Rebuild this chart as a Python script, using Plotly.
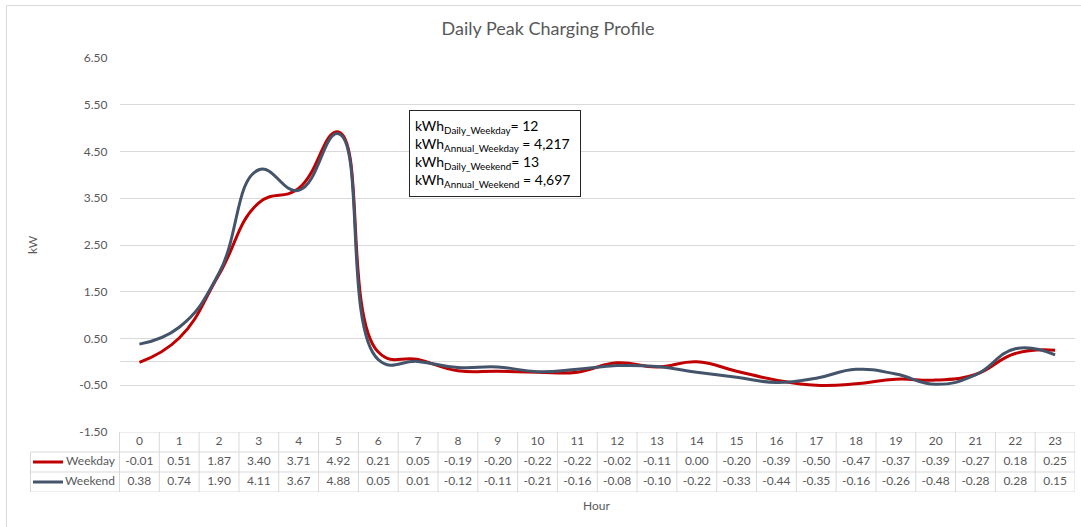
import plotly.graph_objects as go

# ---- data -------------------------------------------------------------
hours = list(range(24))
weekday = [-0.01, 0.51, 1.87, 3.40, 3.71, 4.92, 0.21, 0.05, -0.19, -0.20, -0.22, -0.22,
           -0.02, -0.11, 0.00, -0.20, -0.39, -0.50, -0.47, -0.37, -0.39, -0.27, 0.18, 0.25]
weekend = [0.38, 0.74, 1.90, 4.11, 3.67, 4.88, 0.05, 0.01, -0.12, -0.11, -0.21, -0.16,
           -0.08, -0.10, -0.22, -0.33, -0.44, -0.35, -0.16, -0.26, -0.48, -0.28, 0.28, 0.15]
series_names = ["Weekday", "Weekend"]
y_ticks = [-1.5, -0.5, 0.5, 1.5, 2.5, 3.5, 4.5, 5.5, 6.5]
kwh_daily_weekday = 12
kwh_annual_weekday = "4,217"
kwh_daily_weekend = 13
kwh_annual_weekend = "4,697"

# ---- styling ----------------------------------------------------------
FONT = "Lato"
GREY_TXT = "#595959"
GRID = "#D9D9D9"
RED = "#C00000"
SLATE = "#44546A"

W, H = 1081, 527
M_L, M_R, M_T, M_B = 29, 6, 58, 35
plot_w = W - M_L - M_R
plot_h = H - M_T - M_B
cat_left_px, cat_right_px = 119.5, 1075
axis_bottom_px = 432
table_left_px = 30.5
cat_w = (cat_right_px - cat_left_px) / 24

x_dom0 = (cat_left_px - M_L) / plot_w
y_dom0 = (H - M_B - axis_bottom_px) / plot_h
x2_lo = -0.5 - (cat_left_px - M_L) / cat_w
table_left = -0.5 - (cat_left_px - table_left_px) / cat_w


def px_to_x2(px):
    return -0.5 - (cat_left_px - px) / cat_w


def px_to_paper_x(px):
    return (px - M_L) / plot_w


def px_to_paper_y(py):
    return (H - M_B - py) / plot_h


fig = go.Figure()

# chart lines
fig.add_trace(go.Scatter(x=hours, y=weekday, mode="lines", name=series_names[0],
                         line=dict(color=RED, width=3, shape="spline", smoothing=1.3),
                         xaxis="x", yaxis="y", showlegend=False))
fig.add_trace(go.Scatter(x=hours, y=weekend, mode="lines", name=series_names[1],
                         line=dict(color=SLATE, width=3, shape="spline", smoothing=1.3),
                         xaxis="x", yaxis="y", showlegend=False))

# data table below the chart
fig.add_trace(go.Scatter(x=hours, y=[2.5] * 24, mode="text", text=[str(h) for h in hours],
                         textfont=dict(family=FONT, size=12, color=GREY_TXT),
                         xaxis="x2", yaxis="y2", showlegend=False, cliponaxis=False))
for row_y, vals in ((1.5, weekday), (0.5, weekend)):
    fig.add_trace(go.Scatter(x=hours, y=[row_y] * 24, mode="text",
                             text=[f"{v:.2f}" for v in vals],
                             textfont=dict(family=FONT, size=12, color=GREY_TXT),
                             xaxis="x2", yaxis="y2", showlegend=False, cliponaxis=False))

label_x = px_to_x2(115)
fig.add_trace(go.Scatter(x=[label_x, label_x], y=[1.5, 0.5], mode="text",
                         text=series_names, textposition="middle left",
                         textfont=dict(family=FONT, size=12, color=GREY_TXT),
                         xaxis="x2", yaxis="y2", showlegend=False, cliponaxis=False))
key_x = [px_to_x2(33), px_to_x2(63)]
fig.add_trace(go.Scatter(x=key_x, y=[1.5, 1.5], mode="lines", line=dict(color=RED, width=3),
                         xaxis="x2", yaxis="y2", showlegend=False))
fig.add_trace(go.Scatter(x=key_x, y=[0.5, 0.5], mode="lines", line=dict(color=SLATE, width=3),
                         xaxis="x2", yaxis="y2", showlegend=False))

# table cell borders
shapes = []
line_style = dict(color=GRID, width=1)
shapes.append(dict(type="line", xref="x2", yref="y2", x0=-0.5, x1=23.5, y0=3, y1=3, line=line_style))
for yy in (2, 1, 0):
    shapes.append(dict(type="line", xref="x2", yref="y2", x0=table_left, x1=23.5, y0=yy, y1=yy,
                       line=line_style))
for i in range(25):
    shapes.append(dict(type="line", xref="x2", yref="y2", x0=i - 0.5, x1=i - 0.5, y0=0, y1=3,
                       line=line_style))
shapes.append(dict(type="line", xref="x2", yref="y2", x0=table_left, x1=table_left, y0=0, y1=2,
                   line=line_style))
# outer chart border
shapes.append(dict(type="rect", xref="paper", yref="paper",
                   x0=px_to_paper_x(6.5), x1=px_to_paper_x(W + 10),
                   y0=px_to_paper_y(H + 10), y1=px_to_paper_y(5.5),
                   line=dict(color=GRID, width=1), layer="below"))

box_text = (f"kWh<sub>Daily_Weekday</sub>= {kwh_daily_weekday}<br>"
            f"kWh<sub>Annual_Weekday</sub> = {kwh_annual_weekday}<br>"
            f"kWh<sub>Daily_Weekend</sub>= {kwh_daily_weekend}<br>"
            f"kWh<sub>Annual_Weekend</sub> = {kwh_annual_weekend}")

annotations = [
    dict(text=box_text, xref="paper", yref="paper",
         x=px_to_paper_x(409), y=px_to_paper_y(110), xanchor="left", yanchor="top",
         showarrow=False, align="left", valign="middle", width=160, height=75, borderpad=5,
         bordercolor="#262626", borderwidth=1, bgcolor="white",
         font=dict(family=FONT, size=14, color="#000000")),
    dict(text="kW", xref="paper", yref="paper", x=px_to_paper_x(33),
         y=px_to_paper_y(245), xanchor="center", yanchor="middle", textangle=-90,
         showarrow=False, font=dict(family=FONT, size=12, color=GREY_TXT)),
    dict(text="Hour", xref="paper", yref="paper", x=px_to_paper_x(596),
         y=px_to_paper_y(505), xanchor="center", yanchor="middle", showarrow=False,
         font=dict(family=FONT, size=12, color=GREY_TXT)),
]

fig.update_layout(
    width=W, height=H,
    margin=dict(l=M_L, r=M_R, t=M_T, b=M_B, pad=0),
    paper_bgcolor="white", plot_bgcolor="white",
    title=dict(text="Daily Peak Charging Profile", x=px_to_paper_x(548), xref="paper",
               xanchor="center", y=1 - 29 / H, yanchor="middle",
               font=dict(family=FONT, size=18, color=GREY_TXT)),
    font=dict(family=FONT, size=12, color=GREY_TXT),
    xaxis=dict(domain=[x_dom0, 1], range=[-0.5, 23.5], showgrid=False, zeroline=False,
               showticklabels=False, showline=False, ticks="", anchor="y"),
    yaxis=dict(domain=[y_dom0, 1], range=[-1.5, 6.5], tickvals=y_ticks,
               ticktext=[f"{v:.2f}" for v in y_ticks], showgrid=True, gridcolor=GRID,
               gridwidth=1, zeroline=True, zerolinecolor=GRID, zerolinewidth=1,
               showline=False, ticks="", ticklabelstandoff=11, anchor="x",
               tickfont=dict(family=FONT, size=12, color=GREY_TXT)),
    xaxis2=dict(domain=[0, 1], range=[x2_lo, 23.5], visible=False, anchor="y2"),
    yaxis2=dict(domain=[0, y_dom0], range=[0, 3], visible=False, anchor="x2"),
    shapes=shapes, annotations=annotations,
)

fig.write_html("out.html")
